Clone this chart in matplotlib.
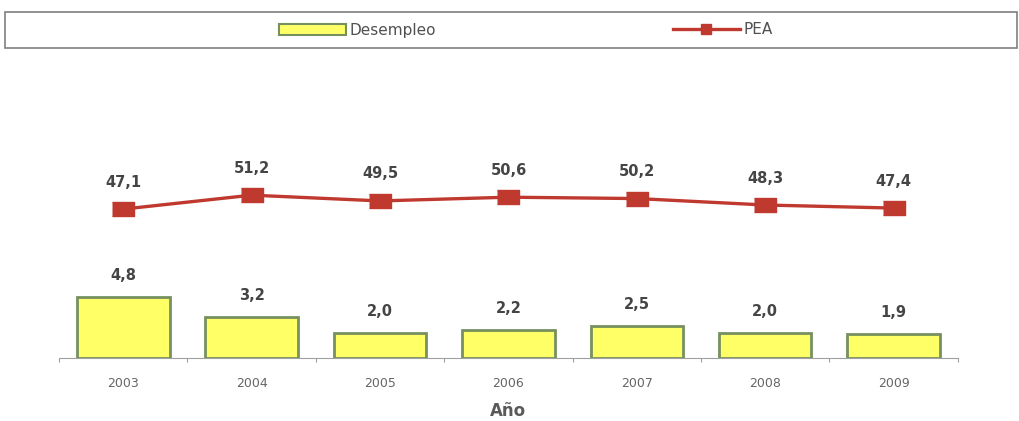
import matplotlib.pyplot as plt
from matplotlib.patches import Rectangle
from matplotlib.lines import Line2D

years = ['2003', '2004', '2005', '2006', '2007', '2008', '2009']
desempleo = [4.8, 3.2, 2.0, 2.2, 2.5, 2.0, 1.9]
pea = [47.1, 51.2, 49.5, 50.6, 50.2, 48.3, 47.4]

bar_color = '#FFFF66'
bar_edge = '#76905F'
line_color = '#C0392F'
text_color = '#454545'

def coma(v):
    return f'{v:.1f}'.replace('.', ',')

fig = plt.figure(figsize=(10.19, 4.21), dpi=100)
ax = fig.add_axes([0.058, 0.1496, 0.882, 0.613])
ax2 = ax.twinx()

x = list(range(len(years)))
ax.bar(x, desempleo, width=0.72, color=bar_color, edgecolor=bar_edge, linewidth=2)
for xi, v in zip(x, desempleo):
    ax.annotate(coma(v), (xi, v), xytext=(0, 10), textcoords='offset points',
                ha='center', va='bottom', fontsize=10.5, fontweight='bold', color=text_color)

rect = [(-1.6, -1), (1.6, -1), (1.6, 1), (-1.6, 1)]
ax2.plot(x, pea, color=line_color, linewidth=2.4, marker=rect, markersize=16,
         markerfacecolor=line_color, markeredgecolor=line_color)
for xi, v in zip(x, pea):
    ax2.annotate(coma(v), (xi, v), xytext=(0, 14), textcoords='offset points',
                 ha='center', va='bottom', fontsize=10.5, fontweight='bold', color=text_color)

ax.set_xlim(-0.5, 6.5)
ax.set_ylim(0, 20.3)
ax2.set_ylim(3.3, 79.2)

ax.set_xticks([i - 0.5 for i in range(len(years) + 1)])
ax.set_xticklabels([])
ax.set_xticks(x, minor=True)
ax.set_xticklabels(years, minor=True, fontsize=9, color='#666666')
ax.tick_params(axis='x', which='major', length=3, color='#A0A0A0', direction='out')
ax.tick_params(axis='x', which='minor', length=0, pad=14)
ax.set_yticks([])
ax2.set_yticks([])
for s in ['top', 'left', 'right']:
    ax.spines[s].set_visible(False)
    ax2.spines[s].set_visible(False)
ax2.spines['bottom'].set_visible(False)
ax.spines['bottom'].set_color('#A0A0A0')
ax.set_xlabel('Año', fontsize=12, fontweight='bold', color='#595959', labelpad=8)

# legend box across the top
fig.patches.append(Rectangle((5 / 1019, 1 - 48 / 421), 1012 / 1019, 36 / 421,
                             transform=fig.transFigure, fill=False,
                             edgecolor='#7F7F7F', linewidth=1.2))
handles = [Rectangle((0, 0), 1, 1, facecolor=bar_color, edgecolor=bar_edge, linewidth=1.5),
           Line2D([], [], color=line_color, linewidth=2.4, marker='s', markersize=7)]
fig.legend(handles, ['Desempleo', 'PEA'], ncol=2, loc='center',
           bbox_to_anchor=(0.516, 1 - 30 / 421), frameon=False, fontsize=11,
           columnspacing=15.5, handlelength=4.4, handletextpad=0.2,
           labelcolor='#505050')

fig.savefig('out.png', dpi=100)
